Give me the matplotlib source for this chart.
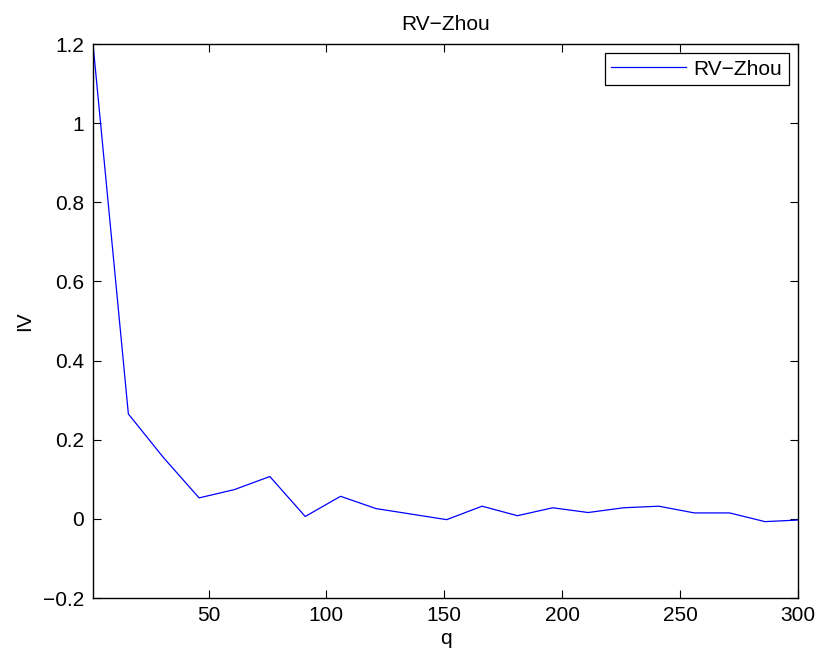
import matplotlib
matplotlib.use("Agg")
import matplotlib.pyplot as plt
from matplotlib.ticker import FuncFormatter

plt.rcParams['font.family'] = ['Liberation Sans', 'DejaVu Sans']

# q values and IV estimates
q = [1, 16, 31, 46, 61, 76, 91, 106, 121, 136, 151, 166, 181, 196, 211,
     226, 241, 256, 271, 286, 300]
iv = [1.2, 0.265, 0.154, 0.053, 0.074, 0.107, 0.006, 0.057, 0.026, 0.012,
      -0.002, 0.032, 0.008, 0.028, 0.016, 0.028, 0.032, 0.015, 0.015,
      -0.007, -0.003]

xticks = [50, 100, 150, 200, 250, 300]
yticks = [-0.2, 0, 0.2, 0.4, 0.6, 0.8, 1, 1.2]

fig = plt.figure(figsize=(8.2, 6.59), dpi=100)
# axes box: x 93..798 px, y 44..598 px
ax = fig.add_axes([93 / 820, 61 / 659, 705 / 820, 554 / 659])

ax.plot(q, iv, color='blue', linewidth=0.9, label='RV\u2212Zhou')

ax.set_xlim(1, 300)
ax.set_ylim(-0.2, 1.2)
ax.set_xticks(xticks)
ax.set_yticks(yticks)
# matlab style labels: 1 and 0 without decimals, long minus sign
ax.yaxis.set_major_formatter(FuncFormatter(lambda v, p: ('%g' % round(v, 2)).replace('-', '\u2212')))
ax.tick_params(direction='in', length=6, width=0.8, top=True, right=True,
               labelsize=15)
ax.tick_params(axis='x', pad=6)
ax.tick_params(axis='y', pad=6.5)
for s in ax.spines.values():
    s.set_linewidth(1.0)

ax.set_xlabel('q', fontsize=15, labelpad=3)
ax.set_ylabel('IV', fontsize=15, labelpad=6)
ax.set_title('RV\u2212Zhou', fontsize=15, pad=10)

leg = ax.legend(loc='upper right', fancybox=False, edgecolor='black',
                fontsize=15, handlelength=3.6, handletextpad=0.35,
                borderpad=0.3, borderaxespad=0.45, framealpha=1)
leg.get_frame().set_linewidth(0.9)

fig.savefig('out.png', dpi=100)
